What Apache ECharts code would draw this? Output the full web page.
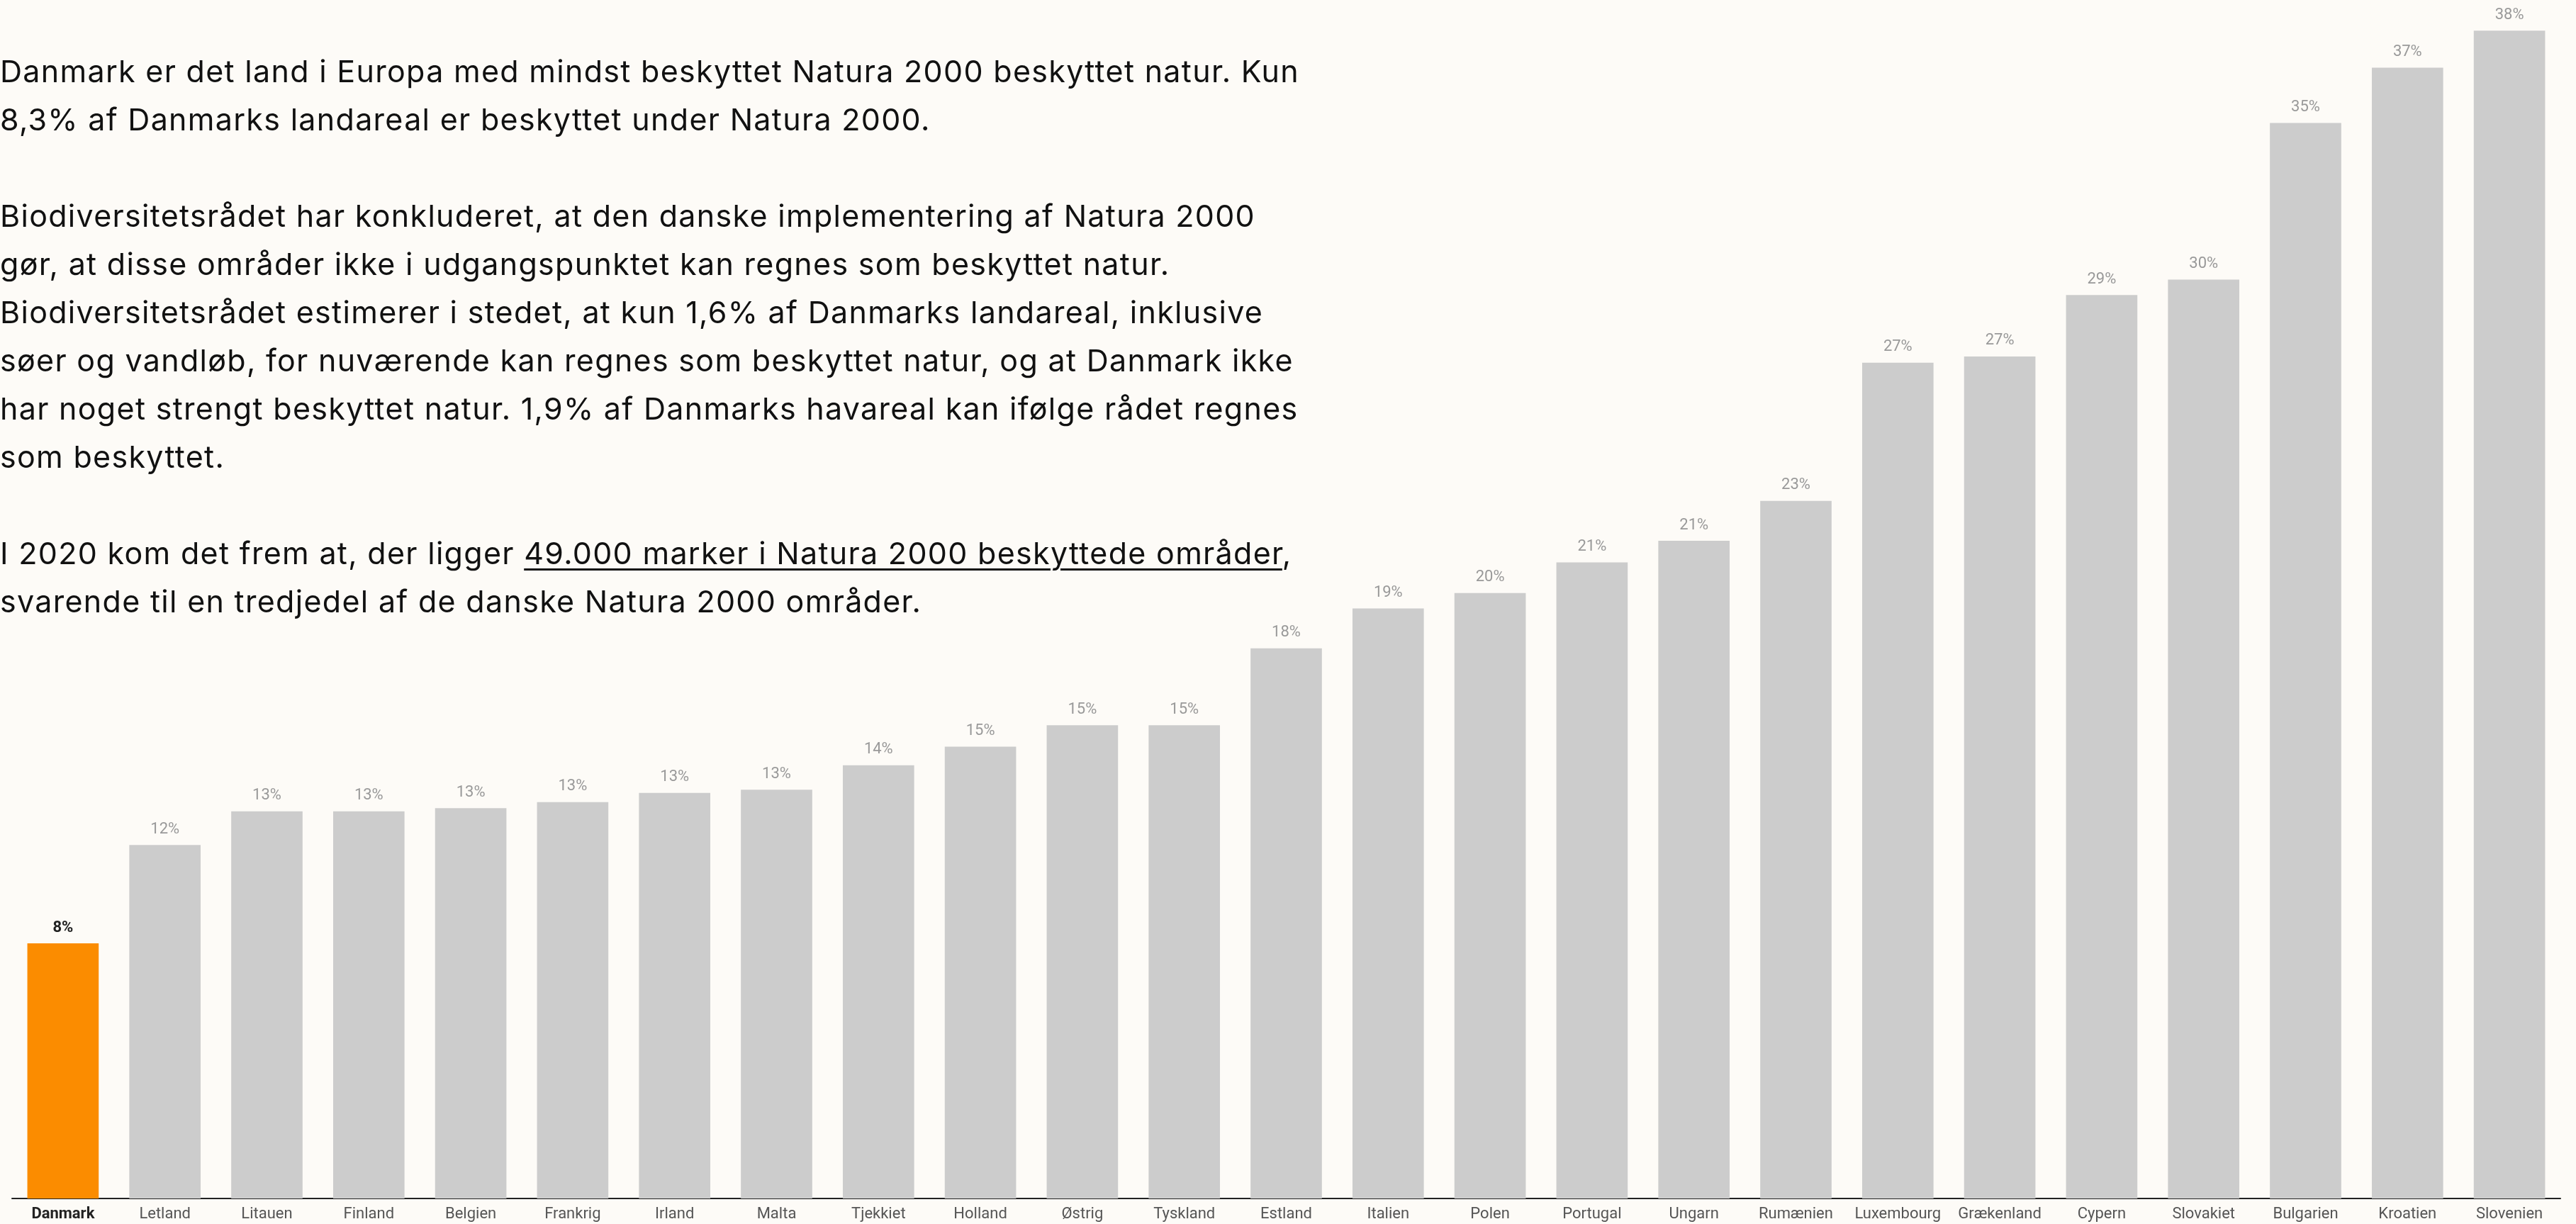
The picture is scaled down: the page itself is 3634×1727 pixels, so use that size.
<!DOCTYPE html>
<html>
<head>
<meta charset="utf-8">
<script src="https://cdn.jsdelivr.net/npm/echarts@6/dist/echarts.min.js"></script>
<style>
  html, body {
    margin: 0;
    padding: 0;
    width: 3634px;
    height: 1727px;
    background: #fdfbf7;
    overflow: hidden;
  }
  #chart {
    position: absolute;
    left: 0;
    top: 0;
    width: 3634px;
    height: 1727px;
  }
  .intro {
    position: absolute;
    left: 0;
    top: 66px;
    font-family: Inter, 'Liberation Sans', sans-serif;
    font-size: 43px;
    letter-spacing: 1.3px;
    line-height: 68px;
    color: #111111;
    white-space: nowrap;
    z-index: 2;
  }
  .intro p {
    margin: 0 0 68px 0;
  }
  .intro .link {
    text-decoration: underline;
    text-decoration-thickness: 3px;
    text-underline-offset: 6px;
  }
</style>
</head>
<body>
<div id="chart"></div>
<div class="intro">
  <p>Danmark er det land i Europa med mindst beskyttet Natura 2000 beskyttet natur. Kun<br>8,3% af Danmarks landareal er beskyttet under Natura 2000.</p>
  <p>Biodiversitetsrådet har konkluderet, at den danske implementering af Natura 2000<br>gør, at disse områder ikke i udgangspunktet kan regnes som beskyttet natur.<br>Biodiversitetsrådet estimerer i stedet, at kun 1,6% af Danmarks landareal, inklusive<br>søer og vandløb, for nuværende kan regnes som beskyttet natur, og at Danmark ikke<br>har noget strengt beskyttet natur. 1,9% af Danmarks havareal kan ifølge rådet regnes<br>som beskyttet.</p>
  <p>I 2020 kom det frem at, der ligger <span class="link">49.000 marker i Natura 2000 beskyttede områder</span>,<br>svarende til en tredjedel af de danske Natura 2000 områder.</p>
</div>
<script>
// landareal beskyttet under Natura 2000, procent
const countries = [
  'Danmark', 'Letland', 'Litauen', 'Finland', 'Belgien', 'Frankrig', 'Irland',
  'Malta', 'Tjekkiet', 'Holland', 'Østrig', 'Tyskland', 'Estland', 'Italien',
  'Polen', 'Portugal', 'Ungarn', 'Rumænien', 'Luxembourg', 'Grækenland',
  'Cypern', 'Slovakiet', 'Bulgarien', 'Kroatien', 'Slovenien'
]
const shares = [
  8.3, 11.5, 12.6, 12.6, 12.7, 12.9, 13.2,
  13.3, 14.1, 14.7, 15.4, 15.4, 17.9, 19.2,
  19.7, 20.7, 21.4, 22.7, 27.2, 27.4,
  29.4, 29.9, 35.0, 36.8, 38.0
]
const highlight = 'Danmark'

const chart = echarts.init(document.getElementById('chart'))

chart.setOption({
  backgroundColor: '#fdfbf7',
  animation: false,
  grid: {
    left: 17,
    right: 22,
    top: 0,
    bottom: 36,
  },
  xAxis: {
    type: 'category',
    data: countries,
    axisLine: {
      show: true,
      lineStyle: {
        color: '#222222',
        width: 2,
      },
    },
    axisTick: {
      show: false,
    },
    axisLabel: {
      interval: 0,
      margin: 11,
      fontFamily: 'Roboto',
      fontSize: 22,
      color: '#555555',
      formatter: function (value) {
        return value === highlight ? '{hl|' + value + '}' : value
      },
      rich: {
        hl: {
          fontFamily: 'Roboto',
          fontSize: 22,
          fontWeight: 'bold',
          color: '#222222',
        },
      },
    },
  },
  yAxis: {
    type: 'value',
    min: 0,
    max: 39,
    show: false,
  },
  series: [
    {
      type: 'bar',
      barCategoryGap: '30%',
      data: shares.map((v, i) => ({
        value: v,
        itemStyle: {
          color: countries[i] === highlight ? '#fb8c00' : '#cccccc',
        },
        label: countries[i] === highlight
          ? { color: '#222222', fontWeight: 'bold' }
          : {},
      })),
      label: {
        show: true,
        position: 'top',
        distance: 11,
        fontFamily: 'Roboto',
        fontSize: 22,
        color: '#999999',
        formatter: function (p) {
          return Math.round(p.value) + '%'
        },
      },
    },
  ],
})
</script>
</body>
</html>
